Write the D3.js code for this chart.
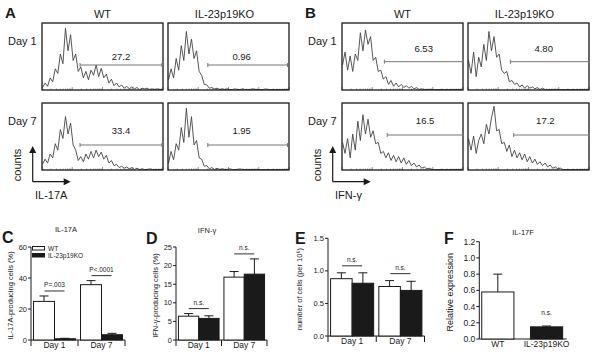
<!DOCTYPE html>
<html>
<head>
<meta charset="utf-8">
<script src="https://cdn.jsdelivr.net/npm/d3@7"></script>
<style>
  body { margin: 0; background: #fff; }
  svg { display: block; font-family: "Liberation Sans", Arial, sans-serif; }
</style>
</head>
<body>
<div id="fig"></div>
<script>
// ---- data ----
const histCols = ["WT", "IL-23p19KO"];
const histRows = ["Day 1", "Day 7"];

// flow histograms (counts, % of max), one value per channel bin
const il17aWT1 = [3,10,5,18,12,32,25,55,40,95,60,85,45,55,28,35,18,28,15,30,22,38,20,33,18,24,10,16,6,10,4,7,2,5,1,4,1,3,0,2,1,2,0,1,0,1,0,0];
const il17aKO1 = [15,32,18,48,30,68,45,90,55,78,48,60,28,22,8,7,2,3,1,2,0,1,0,1,0,0,1,0,0,1,0,0,0,1,0,0,0,0,1,0,0,0,0,0,0,0,0,0];
const il17aWT7 = [8,16,10,24,18,40,30,62,48,82,55,72,38,30,14,20,12,24,16,28,18,30,20,27,16,22,10,14,6,8,3,5,2,4,1,3,0,2,0,1,0,0,1,0,0,0,0,0];
const il17aKO7 = [10,28,15,40,30,65,42,95,50,82,38,45,18,16,5,6,1,3,0,2,0,1,0,0,1,0,0,0,1,0,0,0,0,0,0,0,0,0,0,0,0,0,0,0,0,0,0,0];
const ifngWT1 = [38,58,30,52,28,55,45,88,60,92,70,82,45,50,28,30,16,20,8,14,5,10,4,8,3,6,2,5,1,3,0,1,0,0,0,0,0,0,0,0,0,0,0,0,0,0,0,0];
const ifngKO1 = [45,25,58,20,50,35,70,45,90,60,82,50,55,30,25,28,12,14,8,10,4,7,2,6,2,4,1,3,0,2,0,0,0,0,0,0,0,0,0,0,0,0,0,0,0,0,0,0];
const ifngWT7 = [42,25,48,18,55,30,75,45,85,55,78,50,60,40,42,25,28,18,26,14,22,12,20,10,18,8,14,6,10,4,7,2,4,1,2,0,0,0,0,0,0,0,0,0,0,0,0,0];
const ifngKO7 = [48,30,52,25,45,55,40,70,55,80,98,60,62,40,42,28,38,20,30,18,26,15,24,12,20,10,16,8,12,6,10,4,7,2,4,1,2,0,0,0,0,0,0,0,0,0,0,0];

const il17aGates = [[14.7, 46.8], [15.4, 46.6]];   // bin range, per column
const ifngGates = [[[16.4, 47.2], [16.4, 47.2]], [[17.5, 47.2], [17.7, 47.2]]];
const il17aPct = [["27.2", "0.96"], ["33.4", "1.95"]];
const ifngPct = [["6.53", "4.80"], ["16.5", "17.2"]];

const days = ["Day 1", "Day 7"];
const groups = ["WT", "IL-23p19KO"];

const cWT = [24.9, 35.7], cWTerr = [3.5, 2.6];
const cKO = [0.8, 3.4],   cKOerr = [0.3, 0.9];
const cTicks = [0, 20, 40, 60];
const cSig = ["P=.003", "P<.0001"];

const dWT = [6.4, 16.9], dWTerr = [0.7, 1.5];
const dKO = [5.8, 17.7], dKOerr = [0.7, 4.1];
const dTicks = [0, 5, 10, 15, 20, 25];
const dSig = ["n.s.", "n.s."];

const eWT = [0.88, 0.76], eWTerr = [0.09, 0.09];
const eKO = [0.81, 0.70], eKOerr = [0.16, 0.14];
const eTicks = [0, 0.5, 1.0, 1.5];
const eSig = ["n.s.", "n.s."];

const fCats = ["WT", "IL-23p19KO"];
const fVals = [0.58, 0.15], fErr = [0.22, 0.01];
const fTicks = [0, 0.2, 0.4, 0.6, 0.8, 1.0, 1.2];

// ---- svg ----
const W = 600, H = 364;
const svg = d3.select("#fig").append("svg")
  .attr("width", W).attr("height", H);

const ink = "#1a1a1a";

function panelLetter(x, y, t, size) {
  svg.append("text").attr("x", x).attr("y", y)
    .style("font-weight", "bold").style("font-size", size + "px")
    .attr("fill", ink).text(t);
}

// ---- flow histogram panels ----
function histPanel(ox, letter, hists, gates, pcts, gateY, labelY, marker) {
  const colX = [ox + 42, ox + 168];
  const rowY = [23, 103];
  const bw = 121, bh = 67;
  panelLetter(ox + 5, 18, letter, 15);

  histCols.forEach((c, j) => {
    svg.append("text").attr("x", colX[j] + bw / 2 - (j === 0 ? 0 : 4)).attr("y", 17.5)
      .attr("text-anchor", "middle").style("font-size", "11px").attr("fill", ink).text(c);
  });
  histRows.forEach((r, i) => {
    svg.append("text").attr("x", ox + 8).attr("y", rowY[i] + 22)
      .style("font-size", "11px").attr("fill", ink).text(r);
  });

  histRows.forEach((r, i) => {
    histCols.forEach((c, j) => {
      const x0 = colX[j], y0 = rowY[i];
      const data = hists[i][j];
      const x = d3.scaleLinear().domain([0, 47]).range([x0 + 0.5, x0 + bw - 0.5]);
      const y = d3.scaleLinear().domain([0, 100]).range([y0 + bh - 0.5, y0 + 2]);
      const g = svg.append("g");

      // log-decade ticks along the bottom
      const lx = d3.scaleLog().domain([1, 1e4]).range([x0, x0 + bw]);
      g.selectAll("line.tk").data(lx.ticks()).join("line")
        .attr("x1", d => lx(d)).attr("x2", d => lx(d))
        .attr("y1", y0 + bh).attr("y2", d => y0 + bh - (Math.log10(d) % 1 === 0 ? 3 : 1.5))
        .attr("stroke", "#555").attr("stroke-width", 0.6);

      g.append("path").datum(data)
        .attr("d", d3.line().x((d, k) => x(k)).y(d => y(d)))
        .attr("fill", "none").attr("stroke", "#444").attr("stroke-width", 0.9);

      g.append("rect").attr("x", x0).attr("y", y0).attr("width", bw).attr("height", bh)
        .attr("fill", "none").attr("stroke", ink).attr("stroke-width", 1.3);

      // gate marker
      const gt = gates[i][j];
      const gx1 = x(gt[0]), gx2 = x(gt[1]), gy = gateY[i];
      g.append("line").attr("x1", gx1).attr("x2", gx2).attr("y1", gy).attr("y2", gy)
        .attr("stroke", "#777").attr("stroke-width", 1);
      [gx1, gx2].forEach(px => g.append("line").attr("x1", px).attr("x2", px)
        .attr("y1", gy - 2).attr("y2", gy + 2).attr("stroke", "#777").attr("stroke-width", 1));
      g.append("text").attr("x", (gx1 + gx2) / 2 - (j === 1 ? 6 : 0)).attr("y", labelY[i])
        .attr("text-anchor", "middle").style("font-size", "9.5px").attr("fill", ink)
        .text(pcts[i][j]);
    });
  });

  // axis arrows
  const ax = ox + 32.7, ay = 181.7;
  svg.append("line").attr("x1", ax).attr("x2", ax).attr("y1", ay).attr("y2", 152)
    .attr("stroke", ink).attr("stroke-width", 1.2);
  svg.append("path").attr("d", `M${ax - 3.5},${153} L${ax},${146} L${ax + 3.5},${153} Z`).attr("fill", ink);
  svg.append("line").attr("x1", ax).attr("x2", ax + 32).attr("y1", ay).attr("y2", ay)
    .attr("stroke", ink).attr("stroke-width", 1.2);
  svg.append("path").attr("d", `M${ax + 31},${ay - 3.5} L${ax + 38},${ay} L${ax + 31},${ay + 3.5} Z`).attr("fill", ink);
  svg.append("text").attr("transform", `translate(${ox + 21},165) rotate(-90)`)
    .attr("text-anchor", "middle").style("font-size", "11px").attr("fill", ink).text("counts");
  svg.append("text").attr("x", ox + 35).attr("y", 199)
    .style("font-size", "11px").attr("fill", ink).text(marker);
}

histPanel(0, "A", [[il17aWT1, il17aKO1], [il17aWT7, il17aKO7]],
  [il17aGates, il17aGates], il17aPct, [65, 145], [60, 133.5], "IL-17A");
histPanel(300, "B", [[ifngWT1, ifngKO1], [ifngWT7, ifngKO7]],
  ifngGates, ifngPct, [61.7, 135], [51.5, 124], "IFN-\u03b3");

// ---- bar panels ----
function barPanel(o) {
  const g = svg.append("g").attr("fill", ink);
  const y = d3.scaleLinear().domain([0, o.ticks[o.ticks.length - 1]]).range([o.yBot, o.yTop]);
  const x = d3.scaleBand().domain(o.cats).range([o.x0, o.x1]);

  // y axis
  g.append("line").attr("x1", o.x0).attr("x2", o.x0).attr("y1", o.yBot).attr("y2", o.yTop)
    .attr("stroke", ink).attr("stroke-width", 1);
  g.selectAll("line.yt").data(o.ticks).join("line")
    .attr("x1", o.x0 - 3).attr("x2", o.x0).attr("y1", d => y(d)).attr("y2", d => y(d))
    .attr("stroke", ink).attr("stroke-width", 1);
  g.selectAll("text.yl").data(o.ticks).join("text")
    .attr("x", o.x0 - 4).attr("y", d => y(d) + o.fs * 0.35)
    .attr("text-anchor", "end").style("font-size", o.fs + "px").text(o.fmt);

  // x axis
  g.append("line").attr("x1", o.x0).attr("x2", o.xEnd).attr("y1", o.yBot).attr("y2", o.yBot)
    .attr("stroke", ink).attr("stroke-width", 1);
  if (o.groupTicks) {
    const edges = [o.x0].concat(o.cats.map(c => x(c) + x.bandwidth()));
    g.selectAll("line.xt").data(edges).join("line")
      .attr("x1", d => d).attr("x2", d => d).attr("y1", o.yBot).attr("y2", o.yBot + 6)
      .attr("stroke", ink).attr("stroke-width", 1);
  }
  g.selectAll("text.xl").data(o.cats).join("text")
    .attr("x", c => (o.bx ? o.bx(c) + o.bw / 2 : x(c) + x.bandwidth() / 2)).attr("y", o.yBot + 8)
    .attr("text-anchor", "middle").style("font-size", "8.5px").text(c => c);

  // bars
  o.series.forEach((s, si) => {
    const sub = o.sub ? o.sub : null;
    s.vals.forEach((v, k) => {
      const cat = o.cats[k];
      let bx, bwid;
      if (sub) { bx = x(cat) + sub(s.name); bwid = sub.bandwidth(); }
      else { bx = o.bx(cat); bwid = o.bw; }
      const cx = bx + bwid / 2;
      g.append("line").attr("x1", cx).attr("x2", cx).attr("y1", y(v)).attr("y2", y(v + s.errs[k]))
        .attr("stroke", ink).attr("stroke-width", 1);
      g.append("line").attr("x1", cx - 4.5).attr("x2", cx + 4.5)
        .attr("y1", y(v + s.errs[k])).attr("y2", y(v + s.errs[k]))
        .attr("stroke", ink).attr("stroke-width", 1);
      g.append("rect").attr("x", bx).attr("y", y(v)).attr("width", bwid).attr("height", o.yBot - y(v))
        .attr("fill", s.fill).attr("stroke", ink).attr("stroke-width", 1);
    });
  });

  // significance
  if (o.sig) {
    o.cats.forEach((c, k) => {
      const top = d3.max(o.series, s => s.vals[k] + s.errs[k]);
      const ly = y(top) - (o.sigGap || 5);
      const cx = x(c) + x.bandwidth() / 2;
      g.append("line").attr("x1", cx - 10).attr("x2", cx + 10).attr("y1", ly).attr("y2", ly)
        .attr("stroke", ink).attr("stroke-width", 0.9);
      g.append("text").attr("x", cx).attr("y", ly - 3.5).attr("text-anchor", "middle")
        .style("font-size", "6.5px").text(o.sig[k]);
    });
  }

  // title and y label
  if (o.title) g.append("text").attr("x", o.titleX).attr("y", o.titleY).attr("text-anchor", "middle")
    .style("font-size", "7.5px").text(o.title);
  g.append("text").attr("transform", `translate(${o.x0 - o.labOff},${(o.yBot + o.yTop) / 2 + 2}) rotate(-90)`)
    .attr("text-anchor", "middle").style("font-size", o.labFs + "px").text(o.ylab);
  return { x, y };
}

function subScale(bw) {
  return d3.scaleBand().domain(groups).range([0, bw]).paddingOuter(0.12);
}

// C
const cx = d3.scaleBand().domain(days).range([31, 125]);
barPanel({
  x0: 31, x1: 125, xEnd: 125, yTop: 247, yBot: 340, cats: days, ticks: cTicks,
  fmt: d => d, fs: 7.5, groupTicks: true, sub: subScale(cx.bandwidth()),
  series: [{ name: "WT", vals: cWT, errs: cWTerr, fill: "#fff" },
           { name: "IL-23p19KO", vals: cKO, errs: cKOerr, fill: ink }],
  sig: cSig, title: "IL-17A", titleX: 66, titleY: 232,
  ylab: "IL-17A-producing cells (%)", labOff: 18, labFs: 7.5
});
panelLetter(2, 243, "C", 16);
// legend
svg.append("rect").attr("x", 32.5).attr("y", 246.5).attr("width", 12).attr("height", 3.5)
  .attr("fill", "#fff").attr("stroke", ink).attr("stroke-width", 1);
svg.append("rect").attr("x", 32.5).attr("y", 253.5).attr("width", 12).attr("height", 3.5)
  .attr("fill", ink).attr("stroke", ink).attr("stroke-width", 1);
svg.append("text").attr("x", 48).attr("y", 250.5).style("font-size", "6.5px").attr("fill", ink).text(groups[0]);
svg.append("text").attr("x", 48).attr("y", 257.5).style("font-size", "6.5px").attr("fill", ink).text(groups[1]);

// D
const dx = d3.scaleBand().domain(days).range([176, 267]);
barPanel({
  x0: 176, x1: 267, xEnd: 267, yTop: 247, yBot: 340, cats: days, ticks: dTicks,
  fmt: d => d, fs: 7.5, groupTicks: true, sub: subScale(dx.bandwidth()),
  series: [{ name: "WT", vals: dWT, errs: dWTerr, fill: "#fff" },
           { name: "IL-23p19KO", vals: dKO, errs: dKOerr, fill: ink }],
  sig: dSig, title: "IFN-\u03b3", titleX: 207, titleY: 233,
  ylab: "IFN-\u03b3-producing cells (%)", labOff: 18, labFs: 7.5
});
panelLetter(146, 244, "D", 16);

// E
const ex = d3.scaleBand().domain(days).range([328, 424.5]);
barPanel({
  x0: 328, x1: 424.5, xEnd: 424.5, yTop: 238.3, yBot: 336, cats: days, ticks: eTicks,
  fmt: d3.format(".1f"), fs: 7.5, groupTicks: true, sub: subScale(ex.bandwidth()),
  series: [{ name: "WT", vals: eWT, errs: eWTerr, fill: "#fff" },
           { name: "IL-23p19KO", vals: eKO, errs: eKOerr, fill: ink }],
  sig: eSig, sigGap: 7, ylab: "number of cells (per 10\u2076)", labOff: 26, labFs: 7.5
});
panelLetter(295, 244, "E", 16);

// F
const fx = d3.scaleBand().domain(fCats).range([479.3, 565.1]).paddingInner(0.34).paddingOuter(0.05);
const fr = barPanel({
  x0: 479.3, x1: 566.7, xEnd: 566.7, yTop: 241.7, yBot: 339, cats: fCats, ticks: fTicks,
  fmt: d3.format(".1f"), fs: 8.5, groupTicks: false, bx: c => fx(c), bw: fx.bandwidth(),
  series: [],
  title: "IL-17F", titleX: 523, titleY: 235,
  ylab: "Relative expression", labOff: 26, labFs: 9
});
fCats.forEach((c, k) => {
  const yF = fr.y, bx = fx(c), bwid = fx.bandwidth(), cxm = bx + bwid / 2;
  const top = yF(fVals[k] + fErr[k]);
  svg.append("line").attr("x1", cxm).attr("x2", cxm).attr("y1", yF(fVals[k])).attr("y2", top)
    .attr("stroke", ink);
  svg.append("line").attr("x1", cxm - 4.5).attr("x2", cxm + 4.5).attr("y1", top).attr("y2", top)
    .attr("stroke", ink);
  svg.append("rect").attr("x", bx).attr("y", yF(fVals[k])).attr("width", bwid)
    .attr("height", 339 - yF(fVals[k]))
    .attr("fill", k === 0 ? "#fff" : ink).attr("stroke", ink);
});
svg.append("text").attr("x", fx(fCats[1]) + fx.bandwidth() / 2).attr("y", 315)
  .attr("text-anchor", "middle").style("font-size", "6.5px").attr("fill", ink).text("n.s.");
panelLetter(444, 244, "F", 16);
</script>
</body>
</html>
